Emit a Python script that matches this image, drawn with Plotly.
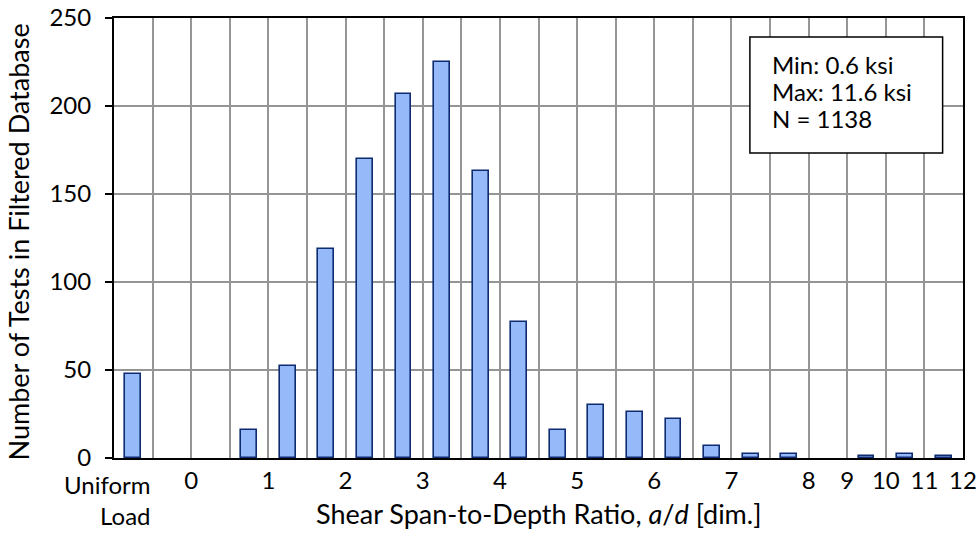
import plotly.graph_objects as go

# Bins (categories) of shear span-to-depth ratio, a/d
bin_labels = ["Uniform Load", "gap", "0-0.5", "0.5-1", "1-1.5", "1.5-2", "2-2.5", "2.5-3",
              "3-3.5", "3.5-4", "4-4.5", "4.5-5", "5-5.5", "5.5-6", "6-6.5", "6.5-7",
              "7-7.5", "7.5-8", "8-9", "9-10", "10-11", "11-12"]
counts = [48, 0, 0, 16, 52, 119, 170, 207, 225, 163, 77, 16, 30, 26, 22, 7, 2, 2, 0, 1, 2, 1]

# Labels at bin boundaries (boundary index 0..22)
boundary_labels = ["", "", "0", "", "1", "", "2", "", "3", "", "4", "", "5", "", "6", "",
                   "7", "", "8", "9", "10", "11", "12"]
first_label = "Uniform<br>Load"

y_ticks = [0, 50, 100, 150, 200, 250]

box_lines = ["Min: 0.6 ksi", "Max: 11.6 ksi", "N = 1138"]

x_title = "Shear Span-to-Depth Ratio, <i>a</i>/<i>d</i> [dim.]"
y_title = "Number of Tests in Filtered Database"

FONT = "Lato"
fs = 24
fs_title = 27

x_pos = [i + 0.5 for i in range(len(bin_labels))]
y_vals = [c if c > 0 else None for c in counts]

fig = go.Figure()
fig.add_trace(go.Bar(
    x=x_pos, y=y_vals, width=0.41,
    marker=dict(color="#96B9FA", line=dict(color="#0D2B6E", width=1.6)),
    hovertext=bin_labels,
))

fig.update_layout(
    width=980, height=536,
    margin=dict(l=114, r=17, t=18, b=78),
    paper_bgcolor="white", plot_bgcolor="white",
    font=dict(family=FONT, size=fs, color="black"),
    showlegend=False,
    bargap=0,
)
fig.update_xaxes(
    range=[0, len(bin_labels)],
    tickmode="array",
    tickvals=list(range(len(boundary_labels))),
    ticktext=boundary_labels,
    showgrid=True, gridcolor="#959595", gridwidth=1.5,
    showline=True, linecolor="black", linewidth=2, mirror=True,
    ticks="", zeroline=False, automargin=False,
    tickfont=dict(family=FONT, size=fs),
)
fig.update_yaxes(
    range=[0, 250],
    tickmode="array", tickvals=y_ticks,
    showgrid=True, gridcolor="#959595", gridwidth=1.5,
    showline=True, linecolor="black", linewidth=2, mirror=True,
    ticks="outside", ticklen=7, tickcolor="black", tickwidth=1.5,
    ticklabelstandoff=9,
    zeroline=False, automargin=False,
    tickfont=dict(family=FONT, size=fs),
)

# Axis titles
fig.add_annotation(x=0.5, y=-0.085, xref="paper", yref="paper", xanchor="center",
                   yanchor="top", text=x_title, showarrow=False,
                   font=dict(family=FONT, size=fs_title))
fig.add_annotation(x=-0.113, y=0.49, xref="paper", yref="paper", xanchor="center",
                   yanchor="middle", text=y_title, showarrow=False, textangle=-90,
                   font=dict(family=FONT, size=fs_title))

# First (category) label, right-aligned at first boundary
fig.add_annotation(
    x=1, y=0, xref="x", yref="y", xanchor="right", yanchor="top",
    text=first_label, align="right", showarrow=False, yshift=-10,
    font=dict(family=FONT, size=fs),
)

# Text box
fig.add_shape(type="rect", xref="paper", yref="paper",
              x0=0.749, x1=0.976, y0=0.693, y1=0.957,
              line=dict(color="black", width=1.5), fillcolor="white", layer="above")
for line_text, yy in zip(box_lines, [0.895, 0.834, 0.772]):
    fig.add_annotation(
        x=0.773, y=yy, xref="paper", yref="paper", xanchor="left", yanchor="middle",
        text=line_text, align="left", showarrow=False,
        font=dict(family=FONT, size=fs),
    )

fig.write_html("out.html", config={"displayModeBar": False},
               post_script="document.body.style.margin='0';document.body.style.padding='0';")
